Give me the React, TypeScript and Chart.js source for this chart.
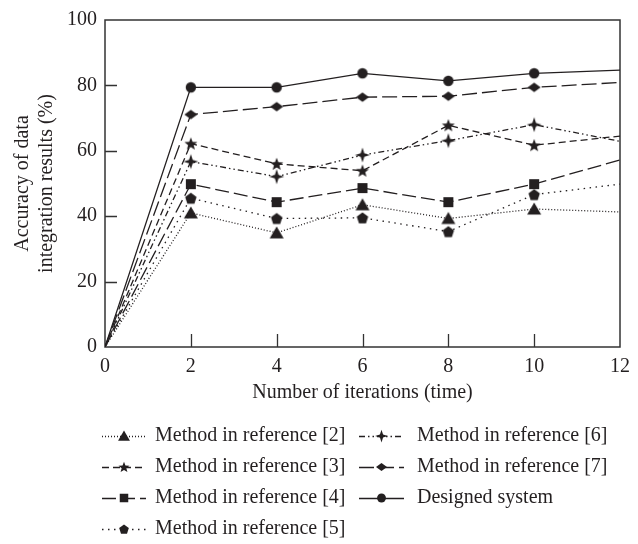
import React, { useEffect, useRef } from "react";
import { Chart, registerables } from "chart.js";

Chart.register(...registerables);

const iterations = [0, 2, 4, 6, 8, 10, 12];
const seriesNames = [
  "Method in reference [2]",
  "Method in reference [3]",
  "Method in reference [4]",
  "Method in reference [5]",
  "Method in reference [6]",
  "Method in reference [7]",
  "Designed system",
];
const ref2 = [0, 41, 34.9, 43.5, 39.3, 42.2, 41.3];
const ref3 = [0, 62.2, 56, 53.9, 67.8, 61.7, 64.5];
const ref4 = [0, 49.8, 44.3, 48.6, 44.3, 49.8, 57.2];
const ref5 = [0, 45.5, 39.3, 39.5, 35.3, 46.6, 49.8];
const ref6 = [0, 56.7, 52.1, 58.7, 63.1, 68, 62.9];
const ref7 = [0, 71.1, 73.5, 76.4, 76.7, 79.4, 80.9];
const designed = [0, 79.4, 79.4, 83.7, 81.4, 83.7, 84.7];
const yTicks = [0, 20, 40, 60, 80, 100];
const xTicks = [0, 2, 4, 6, 8, 10, 12];

const seriesValues = [ref2, ref3, ref4, ref5, ref6, ref7, designed];
const markers = ["triangle", "star5", "square", "pentagon", "star4", "diamond", "circle"];
const dashes: number[][] = [
  [1, 2],
  [7, 4],
  [14, 5],
  [1.5, 4.5],
  [6, 3, 1.5, 3, 1.5, 3],
  [15, 5],
  [],
];

const INK = "#231f20";
const FONT = '"Liberation Serif", "Times New Roman", serif';

function polygon(ctx: CanvasRenderingContext2D, pts: number[][]) {
  ctx.beginPath();
  pts.forEach((p, i) => (i === 0 ? ctx.moveTo(p[0], p[1]) : ctx.lineTo(p[0], p[1])));
  ctx.closePath();
  ctx.fill();
}

function starPts(cx: number, cy: number, n: number, ro: number, ri: number) {
  const pts: number[][] = [];
  for (let i = 0; i < n * 2; i++) {
    const r = i % 2 === 0 ? ro : ri;
    const a = -Math.PI / 2 + (i * Math.PI) / n;
    pts.push([cx + r * Math.cos(a), cy + r * Math.sin(a)]);
  }
  return pts;
}

function drawMarker(ctx: CanvasRenderingContext2D, kind: string, cx: number, cy: number, s: number) {
  ctx.save();
  ctx.fillStyle = INK;
  if (kind === "triangle") {
    polygon(ctx, [
      [cx, cy - 6.5 * s],
      [cx + 7 * s, cy + 5.5 * s],
      [cx - 7 * s, cy + 5.5 * s],
    ]);
  } else if (kind === "star5") {
    polygon(ctx, starPts(cx, cy + 0.5 * s, 5, 6.8 * s, 2.9 * s));
  } else if (kind === "square") {
    ctx.fillRect(cx - 5 * s, cy - 5 * s, 10 * s, 10 * s);
  } else if (kind === "pentagon") {
    const pts: number[][] = [];
    for (let i = 0; i < 5; i++) {
      const a = -Math.PI / 2 + (i * 2 * Math.PI) / 5;
      pts.push([cx + 6 * s * Math.cos(a), cy + 0.6 * s + 6 * s * Math.sin(a)]);
    }
    polygon(ctx, pts);
  } else if (kind === "star4") {
    polygon(ctx, starPts(cx, cy, 4, 7.5 * s, 2.6 * s));
  } else if (kind === "diamond") {
    polygon(ctx, [
      [cx, cy - 4.8 * s],
      [cx + 6.5 * s, cy],
      [cx, cy + 4.8 * s],
      [cx - 6.5 * s, cy],
    ]);
  } else {
    ctx.beginPath();
    ctx.arc(cx, cy, 5.2 * s, 0, Math.PI * 2);
    ctx.fill();
  }
  ctx.restore();
}

function markerCanvas(kind: string) {
  const c = document.createElement("canvas");
  c.width = 18;
  c.height = 18;
  const ctx = c.getContext("2d")!;
  drawMarker(ctx, kind, 9, 9, 1);
  return c;
}

const framePlugin = {
  id: "frame",
  beforeDatasetsDraw(chart: any) {
    const { ctx, chartArea } = chart;
    const xs = chart.scales.x;
    const ys = chart.scales.y;
    ctx.save();
    ctx.strokeStyle = "#333";
    ctx.lineWidth = 1.5;
    ctx.strokeRect(chartArea.left, chartArea.top, chartArea.right - chartArea.left, chartArea.bottom - chartArea.top);
    ctx.lineWidth = 1.3;
    ctx.beginPath();
    xTicks.slice(1, -1).forEach((v) => {
      const px = Math.round(xs.getPixelForValue(v)) + 0.5;
      ctx.moveTo(px, chartArea.bottom);
      ctx.lineTo(px, chartArea.bottom - 13);
    });
    yTicks.slice(1, -1).forEach((v) => {
      const py = Math.round(ys.getPixelForValue(v)) + 0.5;
      ctx.moveTo(chartArea.left, py);
      ctx.lineTo(chartArea.left + 12, py);
    });
    ctx.stroke();
    ctx.restore();
  },
};

const legendPlugin = {
  id: "customLegend",
  afterDraw(chart: any) {
    const { ctx } = chart;
    const rowY = [436, 467, 498, 529];
    const cols = [
      { x0: 102, x1: 146, text: 155 },
      { x0: 359, x1: 404, text: 417 },
    ];
    ctx.save();
    chart.data.datasets.forEach((ds: any, i: number) => {
      const col = cols[i < 4 ? 0 : 1];
      const y = rowY[i < 4 ? i : i - 4];
      ctx.strokeStyle = INK;
      ctx.lineWidth = 1.3;
      ctx.setLineDash(ds.borderDash || []);
      ctx.beginPath();
      ctx.moveTo(col.x0, y + 0.5);
      ctx.lineTo(col.x1, y + 0.5);
      ctx.stroke();
      ctx.setLineDash([]);
      drawMarker(ctx, markers[i], (col.x0 + col.x1) / 2, y, 0.85);
      ctx.fillStyle = INK;
      ctx.font = `20px ${FONT}`;
      ctx.textBaseline = "middle";
      ctx.textAlign = "left";
      ctx.fillText(ds.label, col.text, y);
    });
    ctx.restore();
  },
};

export default function App() {
  const ref = useRef<HTMLCanvasElement | null>(null);
  useEffect(() => {
    document.body.style.margin = "0";
    const canvas = ref.current!;
    const datasets = seriesValues.map((vals, i) => {
      const img = markerCanvas(markers[i]);
      return {
        label: seriesNames[i],
        data: vals.map((v, j) => ({ x: iterations[j], y: v })),
        borderColor: INK,
        backgroundColor: INK,
        borderWidth: 1.3,
        borderDash: dashes[i],
        pointStyle: img,
        pointRadius: vals.map((_, j) => (j === 0 || j === vals.length - 1 ? 0 : 5)),
        pointHoverRadius: 0,
        tension: 0,
        fill: false,
      };
    });
    const chart = new Chart(canvas, {
      type: "line",
      data: { datasets },
      options: {
        animation: false,
        responsive: false,
        events: [],
        layout: { padding: { left: 0, top: 17, right: 12, bottom: 120 } },
        plugins: { legend: { display: false }, tooltip: { enabled: false } },
        scales: {
          x: {
            type: "linear",
            min: 0,
            max: 12,
            grid: { display: false, drawTicks: false },
            border: { display: false },
            afterFit: (s: any) => {
              s.height = 77;
            },
            afterBuildTicks: (s: any) => {
              s.ticks = xTicks.map((v) => ({ value: v }));
            },
            ticks: {
              color: INK,
              padding: 8,
              autoSkip: false,
              maxRotation: 0,
              font: { family: FONT, size: 20, lineHeight: 1.2 },
            },
            title: {
              display: true,
              text: "Number of iterations (time)",
              color: INK,
              padding: { top: 0, bottom: 19 },
              font: { family: FONT, size: 20, lineHeight: 1.2 },
            },
          },
          y: {
            type: "linear",
            min: 0,
            max: 100,
            grid: { display: false, drawTicks: false },
            border: { display: false },
            afterFit: (s: any) => {
              s.width = 105;
            },
            afterBuildTicks: (s: any) => {
              s.ticks = yTicks.map((v) => ({ value: v }));
            },
            ticks: {
              color: INK,
              padding: 8,
              font: { family: FONT, size: 20, lineHeight: 1.2 },
            },
            title: {
              display: true,
              text: ["Accuracy of data", "integration results (%)"],
              color: INK,
              padding: { top: 11, bottom: 0 },
              font: { family: FONT, size: 20, lineHeight: 1.2 },
            },
          },
        },
      },
      plugins: [framePlugin, legendPlugin],
    });
    return () => chart.destroy();
  }, []);
  return <canvas ref={ref} width={638} height={544} style={{ display: "block" }} />;
}
